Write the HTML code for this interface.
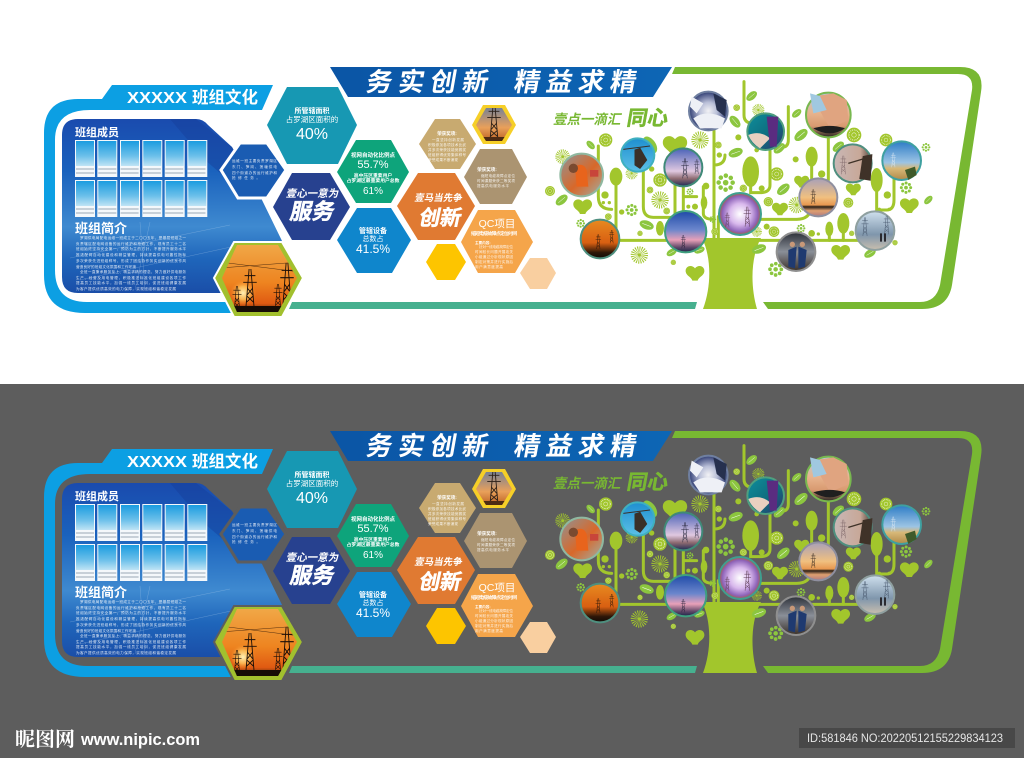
<!DOCTYPE html>
<html lang="zh"><head><meta charset="utf-8"><title>班组文化</title>
<style>html,body{margin:0;padding:0;background:#fff}svg{display:block}
text{font-family:"Liberation Sans","Noto Sans CJK SC",sans-serif}</style></head><body>
<svg xmlns="http://www.w3.org/2000/svg" width="1024" height="758" viewBox="0 0 1024 758">
<defs>
<linearGradient id="pn" x1="0" y1="0" x2="0" y2="1"><stop offset="0" stop-color="#1a4bae"/><stop offset=".3" stop-color="#1a62bd"/><stop offset=".62" stop-color="#3f8ad0"/><stop offset=".8" stop-color="#1f66bb"/><stop offset="1" stop-color="#1a4ea8"/></linearGradient>
<linearGradient id="cd" x1="0" y1="0" x2="0" y2="1"><stop offset="0" stop-color="#1a9ce0"/><stop offset=".6" stop-color="#6cc0ea"/><stop offset="1" stop-color="#bfe4f5"/></linearGradient>
<linearGradient id="ss" x1="0" y1="0" x2="0" y2="1"><stop offset="0" stop-color="#f0a848"/><stop offset=".55" stop-color="#ee8420"/><stop offset=".85" stop-color="#e05a12"/><stop offset="1" stop-color="#1d0f08"/></linearGradient>
<linearGradient id="sm" x1="0" y1="0" x2="0" y2="1"><stop offset="0" stop-color="#6d7f9c"/><stop offset=".6" stop-color="#e9a05a"/><stop offset="1" stop-color="#b85c1e"/></linearGradient>
<linearGradient id="tb" x1="0" y1="0" x2="1" y2="0"><stop offset="0" stop-color="#0b55a5"/><stop offset="1" stop-color="#0d66b5"/></linearGradient>
<linearGradient id="p1" x1="0" y1="0" x2="1" y2="1"><stop offset="0" stop-color="#8e9498"/><stop offset=".55" stop-color="#d8682a"/><stop offset="1" stop-color="#9fb0a8"/></linearGradient>
<linearGradient id="p2" x1="0" y1="0" x2="0" y2="1"><stop offset="0" stop-color="#1f8fd0"/><stop offset="1" stop-color="#5cc0e6"/></linearGradient>
<linearGradient id="p3" x1="0" y1="0" x2="0" y2="1"><stop offset="0" stop-color="#4a62b8"/><stop offset=".6" stop-color="#e0c8e0"/><stop offset=".8" stop-color="#8d6a70"/><stop offset="1" stop-color="#1b2a55"/></linearGradient>
<radialGradient id="p4"><stop offset="0" stop-color="#f2f2f5"/><stop offset=".45" stop-color="#b9bfd8"/><stop offset="1" stop-color="#2f3c72"/></radialGradient>
<linearGradient id="p5" x1="0" y1="0" x2="1" y2="1"><stop offset="0" stop-color="#0d8f9c"/><stop offset=".6" stop-color="#0f6a7c"/><stop offset="1" stop-color="#352a70"/></linearGradient>
<linearGradient id="p6" x1="0" y1="0" x2="0" y2="1"><stop offset="0" stop-color="#a8cfe8"/><stop offset=".45" stop-color="#e8b48e"/><stop offset=".75" stop-color="#d89a70"/><stop offset="1" stop-color="#252322"/></linearGradient>
<linearGradient id="p7" x1="0" y1="0" x2="1" y2="0"><stop offset="0" stop-color="#c9b7b6"/><stop offset=".7" stop-color="#c8a898"/><stop offset="1" stop-color="#4d4038"/></linearGradient>
<linearGradient id="p8" x1="0" y1="0" x2="0" y2="1"><stop offset="0" stop-color="#2d7cc6"/><stop offset=".55" stop-color="#9cc4e4"/><stop offset=".7" stop-color="#d8b878"/><stop offset="1" stop-color="#b08a48"/></linearGradient>
<linearGradient id="p9" x1="0" y1="0" x2="0" y2="1"><stop offset="0" stop-color="#a8a0b8"/><stop offset=".5" stop-color="#f0c080"/><stop offset=".7" stop-color="#e89850"/><stop offset=".75" stop-color="#2a2018"/><stop offset=".85" stop-color="#e0a070"/><stop offset="1" stop-color="#b07a80"/></linearGradient>
<radialGradient id="p10"><stop offset="0" stop-color="#ffffff"/><stop offset=".5" stop-color="#d8b8ec"/><stop offset=".85" stop-color="#8d62b8"/><stop offset="1" stop-color="#a8603c"/></radialGradient>
<linearGradient id="p11" x1="0" y1="0" x2="0" y2="1"><stop offset="0" stop-color="#1f4aa8"/><stop offset=".45" stop-color="#6a86cc"/><stop offset=".7" stop-color="#e8a0b8"/><stop offset=".88" stop-color="#604868"/><stop offset="1" stop-color="#1a2448"/></linearGradient>
<linearGradient id="p12" x1="0" y1="0" x2="0" y2="1"><stop offset="0" stop-color="#e88a20"/><stop offset=".6" stop-color="#d85f12"/><stop offset=".85" stop-color="#2c1608"/><stop offset="1" stop-color="#120a06"/></linearGradient>
<linearGradient id="p13" x1="0" y1="0" x2="0" y2="1"><stop offset="0" stop-color="#2c3038"/><stop offset=".5" stop-color="#8a8f98"/><stop offset="1" stop-color="#3a3028"/></linearGradient>
<linearGradient id="p14" x1="0" y1="0" x2="0" y2="1"><stop offset="0" stop-color="#cfe0ee"/><stop offset=".6" stop-color="#7f96ac"/><stop offset="1" stop-color="#cabfae"/></linearGradient>
<radialGradient id="sg"><stop offset="0" stop-color="#fff2b8"/><stop offset=".5" stop-color="#ffc860" stop-opacity=".8"/><stop offset="1" stop-color="#ee8420" stop-opacity="0"/></radialGradient>
<clipPath id="hx"><polygon points="222,278 237,245 278,245 297,278 278,312 237,312"/></clipPath>
<clipPath id="hy"><polygon points="476,125 486,108 502,108 512,125 502,141 486,141"/></clipPath>

<g id="tw" fill="none" stroke-width="1"><path d="M-1,-20L-4.5,20M1,-20L4.5,20M-6,-13H6M-7.5,-6H7.5M-3,0L3,7M3,0L-3,7M-4,8L4,15M4,8L-4,15"/></g>
<g id="lf"><ellipse rx="22" ry="13" fill="#8cc63f"/><path d="M-14,0H14" stroke="#fff" stroke-width="1.4" fill="none"/></g>
<path id="bf" fill="#a2c62c" d="M0,-15C-10,-28-30,-22-28,-5C-26,8-12,10-8,22H8C12,10 26,8 28,-5C30,-22 10,-28 0,-15Z"/>
<g id="sn"><circle r="15" fill="none" stroke="#a2c62c" stroke-width="22" stroke-dasharray="2.2 2.5"/><circle r="5" fill="#a2c62c"/></g>
<g id="ro"><circle r="20" fill="#a2c62c"/><circle r="14" fill="none" stroke="#fff" stroke-width="3" stroke-dasharray="2.4 2.6" opacity=".8"/><circle r="6" fill="none" stroke="#fff" stroke-width="1.5" opacity=".8"/></g>
<g id="cl"><circle r="20" fill="none" stroke="#8cc63f" stroke-width="13" stroke-linecap="round" stroke-dasharray="0 15.7"/><circle r="8" fill="#8cc63f"/></g>

<g id="art">
 <path fill="#0c9fe3" d="M112,85H273L262,110H90Q55,110 55,140V270Q55,302 87,302H229L237,313H85Q44,313 44,275V133Q44,99 78,99H102Z"/>
 <path fill="url(#pn)" d="M78,119H196Q203,119 208,125L232,147L262,200L284,245L240,293H78Q62,293 62,277V135Q62,119 78,119Z"/>
 <path fill="#163f98" opacity=".45" d="M170,119H196L232,147L262,200L240,190L205,160Z"/>
 <path stroke="#c6dcf4" stroke-width=".5" opacity=".35" fill="none" d="M70,258L230,225M80,280L240,245M140,222L145,290M150,222L135,290"/>
 <g fill="#f4f8fb"><rect x="75" y="140" width="20" height="37"/><rect x="97.3" y="140" width="20" height="37"/><rect x="120" y="140" width="20" height="37"/><rect x="142.3" y="140" width="20" height="37"/><rect x="164.7" y="140" width="20" height="37"/><rect x="187.3" y="140" width="20" height="37"/>
 <rect x="75" y="180" width="20" height="37"/><rect x="97.3" y="180" width="20" height="37"/><rect x="120" y="180" width="20" height="37"/><rect x="142.3" y="180" width="20" height="37"/><rect x="164.7" y="180" width="20" height="37"/><rect x="187.3" y="180" width="20" height="37"/></g>
 <rect x="76" y="141" width="18" height="25" fill="url(#cd)"/><rect x="98.3" y="141" width="18" height="25" fill="url(#cd)"/><rect x="121" y="141" width="18" height="25" fill="url(#cd)"/><rect x="143.3" y="141" width="18" height="25" fill="url(#cd)"/><rect x="165.7" y="141" width="18" height="25" fill="url(#cd)"/><rect x="188.3" y="141" width="18" height="25" fill="url(#cd)"/>
 <rect x="76" y="181" width="18" height="25" fill="url(#cd)"/><rect x="98.3" y="181" width="18" height="25" fill="url(#cd)"/><rect x="121" y="181" width="18" height="25" fill="url(#cd)"/><rect x="143.3" y="181" width="18" height="25" fill="url(#cd)"/><rect x="165.7" y="181" width="18" height="25" fill="url(#cd)"/><rect x="188.3" y="181" width="18" height="25" fill="url(#cd)"/>
 <path d="M76,169H207M76,173H207M76,209H207M76,213H207" stroke="#9aa8b4" stroke-width="1" stroke-dasharray="18 4.3"/>
 <polygon points="221,170 240,143 267,143 286,170 267,198 238,198" fill="#1a5cb2" style="stroke:var(--bg)" stroke-width="3"/>
 <polygon points="214,278 234,242 282,242 303,278 282,317 234,317" fill="#a2c02e" style="stroke:var(--bg)" stroke-width="2"/>
 <g clip-path="url(#hx)"><rect x="220" y="244" width="80" height="70" fill="url(#ss)"/><circle cx="243" cy="293" r="13" fill="url(#sg)"/><rect x="220" y="306" width="80" height="8" fill="#150c06"/>
  <use href="#tw" transform="translate(250,288) scale(.9,.95)" stroke="#1b0f08"/><use href="#tw" transform="translate(287,284) scale(.9,1.05)" stroke="#1b0f08"/><use href="#tw" transform="translate(237,298) scale(.6)" stroke="#1b0f08"/><use href="#tw" transform="translate(278,296) scale(.6)" stroke="#1b0f08"/><path d="M220,262L300,272M220,268L300,262" stroke="#2c1408" stroke-width=".4"/></g>
 <polygon points="267,125 287,87 338,87 357,125 338,164 287,164" fill="#1798b3"/>
 <polygon points="273,207 292,173 330,173 350,207 330,240 292,240" fill="#27418f"/>
 <polygon points="337,172 356,140 391,140 409,172 391,203 356,203" fill="#0ea47b"/>
 <polygon points="337,240 357,208 391,208 411,240 392,273 357,273" fill="#0f86cc"/>
 <polygon points="397,206 418,173 455,173 475,206 455,240 418,240" fill="#e07a32"/>
 <polygon points="419,144 435,119 460,119 476,144 460,169 435,169" fill="#c8aa70"/>
 <polygon points="472,125 483,105 505,105 516,125 505,144 483,144" fill="#f6cf28"/>
 <g clip-path="url(#hy)"><rect x="474" y="106" width="40" height="36" fill="url(#sm)"/><use href="#tw" transform="translate(494,123) scale(.9)" stroke="#2c2018"/><rect x="474" y="137" width="40" height="5" fill="#4d2b14"/></g>
 <polygon points="464,177 480,149 512,149 527,177 512,204 480,204" fill="#ab9471"/>
 <polygon points="461,242 478,210 515,210 533,242 515,273 478,273" fill="#f5a54a"/>
 <polygon points="426,262 437,244 455,244 466,262 455,280 437,280" fill="#fdc500"/>
 <polygon points="520,273 530,258 547,258 556,273 547,289 530,289" fill="#f9cfa0"/>
 <polygon points="330,67 672,67 653,97 348,97" fill="url(#tb)"/>
 <polygon points="292,302 697,302 695,309 289,309" fill="#46b08f"/>
 <path fill="#78b832" d="M675,67H960Q985,67 981,92L952,285Q948,309 922,309H768L763,302H920Q936,302 940,285L972,90Q974,74 958,74H672Z"/>
 <path fill="#a2c62c" d="M703,309C712,285 711,256 702,238H761C751,256 750,285 757,309Z"/>
 <g transform="translate(540,60) scale(.33333)">
  <g fill="none" stroke="#a2c62c" stroke-width="9" stroke-linecap="round">
   <path d="M240,541H960"/><path d="M228,350V541"/>
   <path d="M175,258V410Q175,448 215,448"/>
   <path d="M310,330V440Q310,472 340,472H400M405,300V470"/>
   <path d="M430,370V450M430,410H470"/>
   <path d="M522,190V540M522,315Q555,315 555,285M490,380V460Q490,478 522,478"/>
   <path d="M612,65V165Q612,190 640,190M690,260V375Q690,398 660,398H632V340"/>
   <path d="M745,140V240Q745,262 725,262"/>
   <path d="M630,478H770Q810,478 815,440V300"/>
   <path d="M865,230V360"/><path d="M1010,360V450H1040Q1062,450 1062,420V350"/>
   <path d="M910,490V541M868,505V541"/><path d="M535,470V540"/>
  </g>
  <g fill="#a2c62c">
   <ellipse cx="228" cy="350" rx="19" ry="27"/><ellipse cx="632" cy="335" rx="25" ry="46"/><ellipse cx="815" cy="290" rx="18" ry="30"/><ellipse cx="1010" cy="360" rx="18" ry="36"/><ellipse cx="910" cy="490" rx="18" ry="31"/><ellipse cx="868" cy="507" rx="12" ry="22"/><ellipse cx="492" cy="428" rx="10" ry="20"/><ellipse cx="360" cy="505" rx="12" ry="22"/>
   <circle cx="195" cy="405" r="11"/><circle cx="190" cy="428" r="5"/><circle cx="208" cy="428" r="5"/><circle cx="245" cy="456" r="8"/><circle cx="335" cy="327" r="8"/><circle cx="498" cy="378" r="10"/><circle cx="538" cy="285" r="8"/><circle cx="595" cy="232" r="9"/><circle cx="665" cy="385" r="9"/><circle cx="767" cy="298" r="9"/><circle cx="845" cy="342" r="11"/><circle cx="680" cy="500" r="9"/><circle cx="815" cy="520" r="10"/><circle cx="835" cy="522" r="5"/><circle cx="1042" cy="405" r="11"/><circle cx="1018" cy="448" r="5"/><circle cx="1048" cy="448" r="5"/><circle cx="465" cy="440" r="9"/><circle cx="445" cy="440" r="6"/><circle cx="650" cy="270" r="7"/>
  </g>
  <use href="#lf" transform="translate(152,255) rotate(45) scale(.7)"/><use href="#lf" transform="translate(65,420) rotate(-40) scale(.95)"/><use href="#lf" transform="translate(330,255) rotate(55) scale(1.3)"/><use href="#lf" transform="translate(320,495) rotate(20)"/><use href="#lf" transform="translate(587,278) rotate(-20)"/><use href="#lf" transform="translate(635,108) rotate(-40) scale(.85)"/><use href="#lf" transform="translate(585,185) rotate(50) scale(.95)"/><use href="#lf" transform="translate(770,160) rotate(-40) scale(.75)"/><use href="#lf" transform="translate(783,225) rotate(-40) scale(1.05)"/><use href="#lf" transform="translate(730,388) rotate(-40)"/><use href="#lf" transform="translate(657,567) rotate(-20)"/><use href="#lf" transform="translate(395,577) rotate(-30) scale(.75)"/><use href="#lf" transform="translate(478,570) rotate(-20) scale(.75)"/><use href="#lf" transform="translate(990,580) rotate(-30) scale(.85)"/><use href="#lf" transform="translate(1165,420) rotate(-45) scale(.7)"/><use href="#lf" transform="translate(895,260) rotate(-40) scale(.9)"/><use href="#lf" transform="translate(718,265) rotate(-40) scale(.9)"/>
  <use href="#bf" transform="translate(128,440)"/><use href="#bf" transform="translate(405,257) scale(1.3)"/><use href="#bf" transform="translate(465,640)"/><use href="#bf" transform="translate(720,447) scale(.85)"/><use href="#bf" transform="translate(785,365) scale(.8)"/><use href="#bf" transform="translate(940,388) scale(.8)"/><use href="#bf" transform="translate(1108,437)"/><use href="#bf" transform="translate(902,577)"/>
  <use href="#sn" transform="translate(68,290) scale(.85)"/><use href="#sn" transform="translate(480,240)"/><use href="#sn" transform="translate(360,420)"/><use href="#sn" transform="translate(298,585)"/><use href="#sn" transform="translate(275,340) scale(.7)"/><use href="#sn" transform="translate(770,435) scale(.95)"/><use href="#sn" transform="translate(650,515) scale(.6)"/><use href="#sn" transform="translate(655,150) scale(.7)"/>
  <use href="#ro" transform="translate(197,240)"/><use href="#ro" transform="translate(30,393) scale(.75)"/><use href="#ro" transform="translate(360,360)"/><use href="#ro" transform="translate(535,255) scale(.5)"/><use href="#ro" transform="translate(590,143) scale(.5)"/><use href="#ro" transform="translate(710,342)"/><use href="#ro" transform="translate(685,425) scale(.7)"/><use href="#ro" transform="translate(610,385) scale(.55)"/><use href="#ro" transform="translate(702,515) scale(.8)"/><use href="#ro" transform="translate(942,225) scale(1.1)"/><use href="#ro" transform="translate(1038,240) scale(.95)"/><use href="#ro" transform="translate(925,428) scale(.75)"/><use href="#ro" transform="translate(330,390) scale(.5)"/><use href="#ro" transform="translate(205,470) scale(.5)"/><use href="#ro" transform="translate(380,453) scale(.5)"/><use href="#ro" transform="translate(525,515) scale(.55)"/><use href="#ro" transform="translate(1065,548) scale(.4)"/><use href="#ro" transform="translate(935,520) scale(.4)"/><use href="#ro" transform="translate(300,520) scale(.4)"/><use href="#ro" transform="translate(400,607) scale(.4)"/>
  <use href="#cl" transform="translate(557,368) scale(1.05)"/><use href="#cl" transform="translate(275,450) scale(.7)"/><use href="#cl" transform="translate(1098,383) scale(.7)"/><use href="#cl" transform="translate(707,628) scale(.85)"/><use href="#cl" transform="translate(1158,262) scale(.5)"/><use href="#cl" transform="translate(122,490) scale(.5)"/><use href="#cl" transform="translate(783,505) scale(.5)"/><use href="#cl" transform="translate(450,395) scale(.4)"/><use href="#cl" transform="translate(518,478) scale(.4)"/>
  <g stroke-width="6">
   <circle cx="125" cy="345" r="64" fill="url(#p1)" stroke="#8fb8a0"/>
   <circle cx="293" cy="285" r="50" fill="url(#p2)" stroke="#3fb0c0"/>
   <circle cx="430" cy="322" r="57" fill="url(#p3)" stroke="#3f8a78"/>
   <circle cx="505" cy="153" r="58" fill="url(#p4)" stroke="#6f7fa0"/>
   <circle cx="677" cy="215" r="55" fill="url(#p5)" stroke="#4f9f7f"/>
   <circle cx="865" cy="165" r="67" fill="url(#p6)" stroke="#78b84f"/>
   <circle cx="938" cy="310" r="57" fill="url(#p7)" stroke="#4f8f7f"/>
   <circle cx="1085" cy="302" r="58" fill="url(#p8)" stroke="#3fa0a0"/>
   <circle cx="835" cy="412" r="57" fill="url(#p9)" stroke="#8f8f9f"/>
   <circle cx="600" cy="462" r="63" fill="url(#p10)" stroke="#3f9f8f"/>
   <circle cx="437" cy="515" r="62" fill="url(#p11)" stroke="#3f9f7f"/>
   <circle cx="180" cy="537" r="58" fill="url(#p12)" stroke="#4f8f7f"/>
   <circle cx="768" cy="575" r="58" fill="url(#p13)" stroke="#8f8f8f"/>
   <circle cx="1005" cy="512" r="58" fill="url(#p14)" stroke="#8fa0a0"/>
  </g>
  <path d="M105,320Q130,305 140,330L145,380H110Z" fill="#e8641c"/><circle cx="100" cy="325" r="14" fill="#7a4a30"/><rect x="150" y="330" width="25" height="20" fill="#c8453a"/>
  <path d="M285,270L300,265L320,300L300,325L285,315ZM250,268L330,258" fill="#3a3028" stroke="#3a3028" stroke-width="3"/>
  <use href="#tw" transform="translate(435,325) scale(1.5)" stroke="#2a2a40" stroke-width="2"/><use href="#tw" transform="translate(470,320) scale(1.1)" stroke="#2a2a40" stroke-width="2"/>
  <path d="M460,175Q500,145 555,175L545,205H480ZM455,110L490,130L470,160L450,140Z" fill="#eef0f6"/><path d="M520,100L560,120L555,170L530,150Z" fill="#26304e"/>
  <path d="M625,225Q660,210 690,235L660,265Q635,250 625,225Z" fill="#e8d0c0"/><path d="M680,170L715,170L710,260L690,260Z" fill="#5a2c80"/>
  <path d="M815,110L880,100L920,120L925,180L870,205Z" fill="#e0a480"/><path d="M810,100L840,108L860,150L820,160Z" fill="#a0c8e0"/><path d="M820,205Q870,190 915,205Q870,235 820,205Z" fill="#1f1f1f"/>
  <path d="M970,290L995,285L990,360L960,355ZM925,310L975,295" fill="#3f3228" stroke="#3f3228" stroke-width="4"/><use href="#tw" transform="translate(910,315) scale(1.4)" stroke="#80686a" stroke-width="2"/>
  <path d="M1095,330L1125,320L1130,345L1105,360Z" fill="#3f5a2a"/><use href="#tw" transform="translate(1060,300) scale(1.1)" stroke="#dfeaf4" stroke-width="2"/>
  <use href="#tw" transform="translate(820,410) scale(1.1)" stroke="#2a2018" stroke-width="2"/>
  <use href="#tw" transform="translate(622,470) scale(1.5)" stroke="#5a3a50" stroke-width="2"/><use href="#tw" transform="translate(562,480) scale(1.1)" stroke="#5a3a50" stroke-width="2"/>
  <use href="#tw" transform="translate(430,545) scale(1)" stroke="#1a1a30" stroke-width="2"/>
  <use href="#tw" transform="translate(175,545) scale(1.1)" stroke="#1a0f08" stroke-width="2.5"/><use href="#tw" transform="translate(215,530) scale(1)" stroke="#1a0f08" stroke-width="2.5"/>
  <path d="M745,570L770,560L765,625L745,620ZM775,560L800,570L795,620L775,625Z" fill="#1f3a70"/><circle cx="757" cy="553" r="8" fill="#c89878"/><circle cx="787" cy="553" r="8" fill="#c89878"/>
  <use href="#tw" transform="translate(975,500) scale(1.4)" stroke="#4a5a70" stroke-width="2"/><use href="#tw" transform="translate(1040,495) scale(1.4)" stroke="#4a5a70" stroke-width="2"/><path d="M1020,520h6v25h-6zM1032,520h6v25h-6z" fill="#2a2a30"/>
 </g>
</g>
</defs>

<rect width="1024" height="758" fill="#fff"/>
<rect y="384" width="1024" height="374" fill="#5d5d5d"/>
<use href="#art" style="--bg:#ffffff"/>
<use href="#art" y="364" style="--bg:#5d5d5d"/>

<g fill="#fff" font-weight="700">
 <text x="127" y="103" font-size="16" textLength="60" lengthAdjust="spacingAndGlyphs">XXXXX</text>
 <text x="192" y="103" font-size="16.5">班组文化</text>
 <text x="75" y="136" font-size="11">班组成员</text>
 <text x="75" y="233" font-size="13">班组简介</text>
 <text transform="translate(365,91) skewX(-10)" font-size="26" letter-spacing="6">务实创新</text>
 <text transform="translate(513,91) skewX(-10)" font-size="26" letter-spacing="6">精益求精</text>
 <text x="312" y="113" font-size="7" text-anchor="middle">所管辖面积</text>
 <text x="312" y="122" font-size="7.5" font-weight="400" text-anchor="middle">占罗湖区面积的</text>
 <text x="312" y="139" font-size="16" font-weight="400" text-anchor="middle">40%</text>
 <text transform="translate(312,197) skewX(-12)" font-size="10.5" text-anchor="middle">壹心一意为</text>
 <text transform="translate(311,219) skewX(-12)" font-size="22" text-anchor="middle" stroke="#fff" stroke-width=".5">服务</text>
 <text x="373" y="157" font-size="5.5" text-anchor="middle">视网自动化比例点</text>
 <text x="373" y="168" font-size="11" font-weight="400" text-anchor="middle">55.7%</text>
 <text x="373" y="177" font-size="4.8" text-anchor="middle">高中压区重要用户</text>
 <text x="373" y="182" font-size="4.8" text-anchor="middle">占罗湖区最重要用户总数</text>
 <text x="373" y="194" font-size="10" font-weight="400" text-anchor="middle">61%</text>
 <text x="373" y="233" font-size="7" text-anchor="middle">管辖设备</text>
 <text x="373" y="241" font-size="7" font-weight="400" text-anchor="middle">总数占</text>
 <text x="373" y="253" font-size="12" font-weight="400" text-anchor="middle">41.5%</text>
 <text transform="translate(438,201) skewX(-12)" font-size="9.5" text-anchor="middle">壹马当先争</text>
 <text transform="translate(439,225) skewX(-12)" font-size="21" text-anchor="middle" stroke="#fff" stroke-width=".5">创新</text>
 <text x="447" y="135" font-size="4.5" text-anchor="middle">荣获奖项:</text>
 <text x="487" y="171" font-size="4.5" text-anchor="middle">荣获奖项:</text>
 <text x="497" y="227" font-size="10.5" font-weight="400" text-anchor="middle">QC项目</text>
 <text x="494" y="235" font-size="4.8" text-anchor="middle" textLength="46">缩短电缆故障点定位时间</text>
 <text x="475" y="244" font-size="3.6">主要内容:</text>
</g>
<g fill="#fff" font-size="3.6" opacity=".85">
 <text x="232" y="162" textLength="45">运维一班主要负责罗湖区</text><text x="232" y="168" textLength="45">东门、笋岗、莲塘供电</text><text x="232" y="174" textLength="45">四个街道办的运行维护和</text><text x="232" y="179" textLength="28">抢修任务。</text>
 <text x="80" y="239" textLength="106">罗湖供电局配电运维一班成立于二〇〇五年，是基层班组之一</text><text x="76" y="245" textLength="110">负责辖区配电网设备的运行维护和抢修工作，现有员工十二名</text><text x="76" y="250" textLength="110">班组始终坚持安全第一、预防为主的方针，不断提升服务水平</text><text x="76" y="256" textLength="110">推进配网自动化建设和精益管理，持续提高供电可靠性指标</text><text x="76" y="262" textLength="110">多次荣获先进班组称号，形成了团结协作务实创新的优良作风</text><text x="76" y="268" textLength="60">营造良好的班组文化氛围和工作环境</text>
 <text x="80" y="273" textLength="106">全班一直秉承服务至上、精益求精的理念，努力做好供电服务</text><text x="76" y="279" textLength="110">生产、经营及用电管理，积极推进标准化班组建设各项工作</text><text x="76" y="284" textLength="110">提高员工技能水平，加强一线员工培训，促进班组健康发展</text><text x="76" y="290" textLength="100">为客户提供优质高效的电力保障，实现班组和谐稳定发展</text>
 <text x="432" y="141" textLength="32">一直坚持创新发展</text><text x="428" y="146" textLength="38">积极参加各项技术比武</text><text x="428" y="151" textLength="38">并多次荣获技能竞赛奖</text><text x="428" y="156" textLength="38">班组获得优秀集体称号</text><text x="428" y="161" textLength="30">荣誉成果不断涌现</text>
 <text x="481" y="177" textLength="34">缩短电缆故障点定位</text><text x="477" y="182" textLength="38">时间课题荣获二等奖项</text><text x="477" y="187" textLength="32">提高供电服务水平</text>
 <text x="479" y="248" textLength="34">针对一线电缆故障定位</text><text x="475" y="253" textLength="38">时间较长问题开展攻关</text><text x="475" y="258" textLength="38">小组通过分析现状原因</text><text x="475" y="263" textLength="38">制定对策并进行实施后</text><text x="475" y="268" textLength="28">用户满意度提高</text>
</g>
<g fill="#78b832" font-weight="700">
 <text transform="translate(553,124) skewX(-12)" font-size="13.5">壹点一滴汇</text>
 <text transform="translate(626,125) skewX(-10)" font-size="20.5" stroke="#78b832" stroke-width=".5">同心</text>
</g>

<g transform="translate(0,364)">
<g fill="#fff" font-weight="700">
 <text x="127" y="103" font-size="16" textLength="60" lengthAdjust="spacingAndGlyphs">XXXXX</text>
 <text x="192" y="103" font-size="16.5">班组文化</text>
 <text x="75" y="136" font-size="11">班组成员</text>
 <text x="75" y="233" font-size="13">班组简介</text>
 <text transform="translate(365,91) skewX(-10)" font-size="26" letter-spacing="6">务实创新</text>
 <text transform="translate(513,91) skewX(-10)" font-size="26" letter-spacing="6">精益求精</text>
 <text x="312" y="113" font-size="7" text-anchor="middle">所管辖面积</text>
 <text x="312" y="122" font-size="7.5" font-weight="400" text-anchor="middle">占罗湖区面积的</text>
 <text x="312" y="139" font-size="16" font-weight="400" text-anchor="middle">40%</text>
 <text transform="translate(312,197) skewX(-12)" font-size="10.5" text-anchor="middle">壹心一意为</text>
 <text transform="translate(311,219) skewX(-12)" font-size="22" text-anchor="middle" stroke="#fff" stroke-width=".5">服务</text>
 <text x="373" y="157" font-size="5.5" text-anchor="middle">视网自动化比例点</text>
 <text x="373" y="168" font-size="11" font-weight="400" text-anchor="middle">55.7%</text>
 <text x="373" y="177" font-size="4.8" text-anchor="middle">高中压区重要用户</text>
 <text x="373" y="182" font-size="4.8" text-anchor="middle">占罗湖区最重要用户总数</text>
 <text x="373" y="194" font-size="10" font-weight="400" text-anchor="middle">61%</text>
 <text x="373" y="233" font-size="7" text-anchor="middle">管辖设备</text>
 <text x="373" y="241" font-size="7" font-weight="400" text-anchor="middle">总数占</text>
 <text x="373" y="253" font-size="12" font-weight="400" text-anchor="middle">41.5%</text>
 <text transform="translate(438,201) skewX(-12)" font-size="9.5" text-anchor="middle">壹马当先争</text>
 <text transform="translate(439,225) skewX(-12)" font-size="21" text-anchor="middle" stroke="#fff" stroke-width=".5">创新</text>
 <text x="447" y="135" font-size="4.5" text-anchor="middle">荣获奖项:</text>
 <text x="487" y="171" font-size="4.5" text-anchor="middle">荣获奖项:</text>
 <text x="497" y="227" font-size="10.5" font-weight="400" text-anchor="middle">QC项目</text>
 <text x="494" y="235" font-size="4.8" text-anchor="middle" textLength="46">缩短电缆故障点定位时间</text>
 <text x="475" y="244" font-size="3.6">主要内容:</text>
</g>
<g fill="#fff" font-size="3.6" opacity=".85">
 <text x="232" y="162" textLength="45">运维一班主要负责罗湖区</text><text x="232" y="168" textLength="45">东门、笋岗、莲塘供电</text><text x="232" y="174" textLength="45">四个街道办的运行维护和</text><text x="232" y="179" textLength="28">抢修任务。</text>
 <text x="80" y="239" textLength="106">罗湖供电局配电运维一班成立于二〇〇五年，是基层班组之一</text><text x="76" y="245" textLength="110">负责辖区配电网设备的运行维护和抢修工作，现有员工十二名</text><text x="76" y="250" textLength="110">班组始终坚持安全第一、预防为主的方针，不断提升服务水平</text><text x="76" y="256" textLength="110">推进配网自动化建设和精益管理，持续提高供电可靠性指标</text><text x="76" y="262" textLength="110">多次荣获先进班组称号，形成了团结协作务实创新的优良作风</text><text x="76" y="268" textLength="60">营造良好的班组文化氛围和工作环境</text>
 <text x="80" y="273" textLength="106">全班一直秉承服务至上、精益求精的理念，努力做好供电服务</text><text x="76" y="279" textLength="110">生产、经营及用电管理，积极推进标准化班组建设各项工作</text><text x="76" y="284" textLength="110">提高员工技能水平，加强一线员工培训，促进班组健康发展</text><text x="76" y="290" textLength="100">为客户提供优质高效的电力保障，实现班组和谐稳定发展</text>
 <text x="432" y="141" textLength="32">一直坚持创新发展</text><text x="428" y="146" textLength="38">积极参加各项技术比武</text><text x="428" y="151" textLength="38">并多次荣获技能竞赛奖</text><text x="428" y="156" textLength="38">班组获得优秀集体称号</text><text x="428" y="161" textLength="30">荣誉成果不断涌现</text>
 <text x="481" y="177" textLength="34">缩短电缆故障点定位</text><text x="477" y="182" textLength="38">时间课题荣获二等奖项</text><text x="477" y="187" textLength="32">提高供电服务水平</text>
 <text x="479" y="248" textLength="34">针对一线电缆故障定位</text><text x="475" y="253" textLength="38">时间较长问题开展攻关</text><text x="475" y="258" textLength="38">小组通过分析现状原因</text><text x="475" y="263" textLength="38">制定对策并进行实施后</text><text x="475" y="268" textLength="28">用户满意度提高</text>
</g>
<g fill="#78b832" font-weight="700">
 <text transform="translate(553,124) skewX(-12)" font-size="13.5">壹点一滴汇</text>
 <text transform="translate(626,125) skewX(-10)" font-size="20.5" stroke="#78b832" stroke-width=".5">同心</text>
</g>
</g>

<text x="15" y="746" font-size="20" font-weight="700" fill="#fff" textLength="60" style="font-family:'Liberation Serif','Noto Serif CJK SC',serif">昵图网</text>
<text x="81" y="745" font-size="17" font-weight="700" fill="#fff" textLength="119" lengthAdjust="spacingAndGlyphs">www.nipic.com</text>
<rect x="799" y="728" width="216" height="20" fill="#484848"/>
<text x="807" y="742" font-size="12" fill="#e6e6e6" textLength="196" lengthAdjust="spacingAndGlyphs">ID:581846 NO:20220512155229834123</text>
</svg>
</body></html>
